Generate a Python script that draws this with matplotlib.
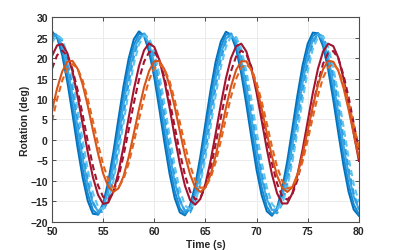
import numpy as np
import matplotlib.pyplot as plt

# muestreo cada 0.5 s
t = np.linspace(50, 80, 61)

# curvas azules (continuas)
azul_1 = [26.5, 25.0, 20.7, 14.2, 6.4, -1.8, -9.2, -14.9, -18.0, -18.2,
          -15.5, -10.2, -3.0, 5.2, 13.2, 19.9, 24.6, 26.5, 25.4, 21.5,
          15.3, 7.5, -0.7, -8.3, -14.2, -17.7, -18.4, -16.0, -11.1, -4.1,
          4.0, 12.1, 19.1, 24.0, 26.4, 25.7, 22.2, 16.3, 8.7, 0.5,
          -7.3, -13.5, -17.4, -18.5, -16.6, -11.9, -5.2, 2.8, 11.0, 18.2,
          23.5, 26.2, 26.0, 22.9, 17.2, 9.8, 1.6, -6.2, -12.7, -17.0, -18.5]
azul_2 = [26.1, 25.4, 22.0, 16.1, 8.6, 0.5, -7.1, -13.2, -17.1, -18.2,
          -16.3, -11.7, -5.0, 2.8, 10.9, 18.0, 23.2, 25.9, 25.7, 22.6,
          17.1, 9.7, 1.7, -6.1, -12.5, -16.7, -18.2, -16.7, -12.5, -6.1,
          1.7, 9.7, 17.1, 22.6, 25.7, 25.9, 23.2, 18.0, 10.9, 2.8,
          -5.0, -11.7, -16.3, -18.2, -17.1, -13.2, -7.1, 0.5, 8.6, 16.1,
          22.0, 25.4, 26.1, 23.8, 18.9, 11.9, 4.0, -3.9, -10.9, -15.8, -18.1]
azul_3 = [25.3, 25.5, 22.9, 17.8, 10.9, 3.1, -4.6, -11.1, -15.5, -17.4,
          -16.3, -12.6, -6.6, 0.8, 8.7, 16.0, 21.7, 25.1, 25.7, 23.4,
          18.7, 11.9, 4.2, -3.5, -10.3, -15.0, -17.3, -16.7, -13.3, -7.6,
          -0.3, 7.6, 15.0, 21.0, 24.7, 25.8, 23.9, 19.5, 13.0, 5.3,
          -2.5, -9.4, -14.5, -17.1, -16.9, -13.9, -8.5, -1.4, 6.5, 14.0,
          20.2, 24.4, 25.8, 24.4, 20.2, 14.0, 6.5, -1.4, -8.5, -13.9, -16.9]
# curvas azules (discontinuas)
azul_4 = [24.9, 26.0, 24.1, 19.6, 13.0, 5.1, -2.8, -9.8, -15.1, -17.7,
          -17.5, -14.5, -8.9, -1.7, 6.3, 14.0, 20.3, 24.5, 26.0, 24.5,
          20.3, 14.0, 6.3, -1.7, -8.9, -14.5, -17.5, -17.7, -15.1, -9.8,
          -2.8, 5.1, 13.0, 19.6, 24.1, 26.0, 24.9, 21.1, 15.0, 7.4,
          -0.6, -8.0, -13.8, -17.3, -17.9, -15.6, -10.7, -3.9, 4.0, 11.9,
          18.7, 23.6, 25.9, 25.3, 21.8, 16.0, 8.6, 0.6, -7.0, -13.1, -16.9]
azul_5 = [23.8, 25.6, 24.6, 20.9, 15.0, 7.6, -0.1, -7.3, -12.9, -16.3,
          -16.9, -14.7, -10.0, -3.3, 4.3, 11.9, 18.6, 23.3, 25.5, 24.9,
          21.5, 15.9, 8.7, 1.0, -6.4, -12.3, -16.0, -17.0, -15.2, -10.8,
          -4.4, 3.2, 10.9, 17.7, 22.7, 25.3, 25.1, 22.2, 16.8, 9.8,
          2.1, -5.4, -11.5, -15.6, -17.0, -15.6, -11.5, -5.4, 2.1, 9.8,
          16.8, 22.2, 25.1, 25.3, 22.7, 17.7, 10.9, 3.2, -4.4, -10.8, -15.2]

rojo = [20.5, 23.1, 23.4, 21.2, 16.8, 10.7, 3.8, -3.1, -9.1, -13.4,
        -15.6, -15.3, -12.6, -7.8, -1.5, 5.5, 12.3, 18.0, 21.9, 23.6,
        22.7, 19.5, 14.3, 7.8, 0.7, -5.9, -11.2, -14.7, -15.8, -14.4,
        -10.7, -5.1, 1.6, 8.6, 15.0, 20.0, 22.9, 23.5, 21.6, 17.4,
        11.5, 4.7, -2.2, -8.4, -13.0, -15.5, -15.5, -13.0, -8.5, -2.3,
        4.6, 11.5, 17.4, 21.6, 23.5, 22.9, 20.0, 15.0, 8.6, 1.6, -5.1]
rojo_disc = [17.4, 20.7, 21.8, 20.6, 17.3, 12.2, 6.1, -0.4, -6.4, -11.1,
             -13.9, -14.5, -12.9, -9.1, -3.7, 2.5, 9.0, 14.7, 19.1, 21.5,
             21.6, 19.4, 15.2, 9.6, 3.2, -3.1, -8.6, -12.6, -14.5, -14.1,
             -11.5, -6.9, -1.0, 5.4, 11.6, 16.8, 20.4, 21.8, 20.9, 17.8,
             12.9, 6.9, 0.4, -5.7, -10.6, -13.7, -14.6, -13.2, -9.7, -4.5,
             1.8, 8.2, 14.1, 18.6, 21.3, 21.7, 19.8, 15.8, 10.4, 4.0, -2.4]

naranja = [7.2, 12.6, 16.7, 19.1, 19.3, 17.4, 13.5, 8.3, 2.4, -3.3,
           -8.2, -11.4, -12.7, -11.8, -8.8, -4.1, 1.6, 7.5, 12.9, 16.9,
           19.2, 19.3, 17.2, 13.3, 8.0, 2.1, -3.7, -8.4, -11.6, -12.7,
           -11.6, -8.5, -3.8, 1.9, 7.8, 13.1, 17.1, 19.2, 19.2, 17.0,
           13.0, 7.6, 1.7, -4.0, -8.7, -11.7, -12.7, -11.5, -8.3, -3.5,
           2.3, 8.2, 13.4, 17.3, 19.3, 19.1, 16.8, 12.7, 7.3, 1.4, -4.3]
naranja_disc = [4.6, 10.0, 14.5, 17.5, 18.5, 17.5, 14.5, 10.0, 4.6, -1.0,
                -6.0, -9.7, -11.7, -11.6, -9.5, -5.7, -0.6, 5.0, 10.3, 14.7,
                17.6, 18.5, 17.3, 14.3, 9.7, 4.3, -1.3, -6.2, -9.9, -11.7,
                -11.5, -9.3, -5.4, -0.3, 5.3, 10.6, 14.9, 17.7, 18.5, 17.2,
                14.0, 9.4, 4.0, -1.6, -6.5, -10.0, -11.8, -11.5, -9.1, -5.2,
                0.0, 5.6, 10.9, 15.2, 17.8, 18.5, 17.1, 13.8, 9.1, 3.6, -1.9]

fig = plt.figure(figsize=(3.97, 2.51), dpi=100)
ax = fig.add_axes([0.131, 0.112, 0.773, 0.816])

lw = 1.5
dash = (3, 1.8)
ax.plot(t, azul_1, color='#0072BD', lw=lw)
ax.plot(t, azul_2, color='#1C8AD3', lw=lw)
ax.plot(t, azul_3, color='#3DAAE6', lw=lw)
ax.plot(t, azul_4, color='#2F9FE3', lw=lw, dashes=dash)
ax.plot(t, azul_5, color='#5CC4F0', lw=lw, dashes=dash)
ax.plot(t, rojo, color='#A2142F', lw=lw)
ax.plot(t, rojo_disc, color='#A2142F', lw=lw, dashes=dash)
ax.plot(t, naranja, color='#D95319', lw=lw)
ax.plot(t, naranja_disc, color='#E0651F', lw=lw, dashes=dash)

ax.set_xlim(50, 80)
ax.set_ylim(-20, 30)
ax.set_xticks(np.arange(50, 81, 5))
ax.set_yticks(np.arange(-20, 31, 5))
ax.grid(True, color='#EBEBEB', lw=0.7)
ax.set_axisbelow(True)

for s in ax.spines.values():
    s.set_color('#4D4D4D')
    s.set_linewidth(0.8)
ax.tick_params(direction='in', top=True, right=True, length=3, width=0.7,
               color='#4D4D4D', labelsize=7.5, pad=3)
for lab in ax.get_xticklabels() + ax.get_yticklabels():
    lab.set_fontweight('bold')
    lab.set_fontfamily('Liberation Sans')
    lab.set_color('#262626')

ax.set_xlabel('Time (s)', fontsize=7.5, fontweight='bold',
              family='Liberation Sans', color='#262626', labelpad=2)
ax.set_ylabel('Rotation (deg)', fontsize=7.5, fontweight='bold',
              family='Liberation Sans', color='#262626', labelpad=0)

fig.savefig('out.png', dpi=100)
